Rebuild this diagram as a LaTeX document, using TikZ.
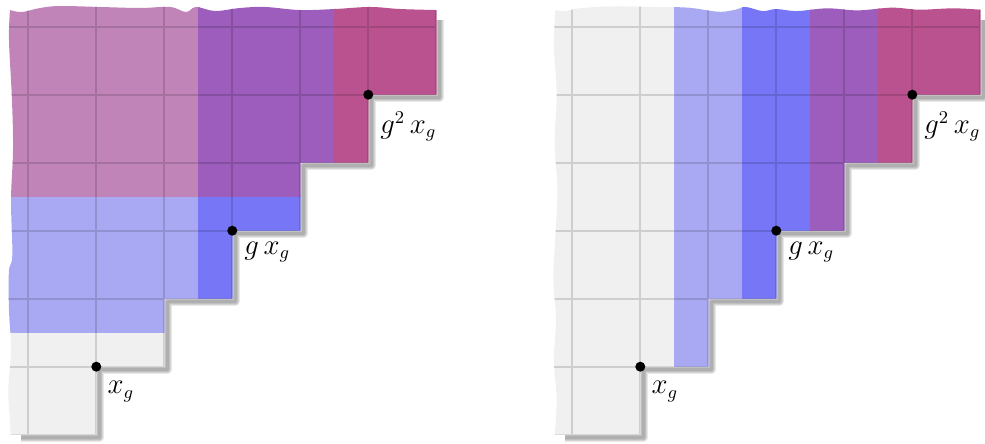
\documentclass[tikz,border=0pt]{standalone}
\usetikzlibrary{calc}
\definecolor{bgray}{HTML}{F0F0F0}
\definecolor{lblue}{HTML}{A8A8F3}
\definecolor{dblue}{HTML}{7676F6}
\definecolor{cpurple}{HTML}{9C5DBC}
\definecolor{cmagenta}{HTML}{BA528F}
\definecolor{cpink}{HTML}{C084B8}
\tikzset{
  dot/.style={circle, fill=black, inner sep=0pt, minimum size=5pt},
  lab/.style={anchor=north west, inner sep=0pt, font=\fontsize{13.5}{16}\selectfont},
  shadowline/.style={black, opacity=0.09, line join=round, line cap=butt},
}
% band: fill a rectangle (slightly overlapping the next band) and draw the grid inside it in a darker shade
\newcommand\myband[5]{%
  \fill[#5] (#1,#2) rectangle ({#3+0.03},{#4+0.03});
  \begin{scope}
    \clip (#1,#2) rectangle (#3,#4);
    \draw[#5!86!black, line width=1pt, step=1] (-2,-2) grid (6,6);
  \end{scope}}
\newcommand\mystairs{(-1.26,-1) -- (0,-1) -- (0,0) -- (1,0) -- (1,1) -- (2,1) -- (2,2) -- (3,2) -- (3,3) -- (4,3) -- (4,4) -- (5,4) -- (5,5.245)}
\newcommand\myshadowpath{(-1.15,-1) -- (0,-1) -- (0,0) -- (1,0) -- (1,1) -- (2,1) -- (2,2) -- (3,2) -- (3,3) -- (4,3) -- (4,4) -- (5,4) -- (5,5.14)}
\newcommand\myregionA{\mystairs
  -- plot[smooth, tension=0.6] coordinates {(4.996,5.245) (4.466,5.260) (4.025,5.290) (3.510,5.260) (2.996,5.245) (2.481,5.290) (2.114,5.275) (1.746,5.231) (1.466,5.290) (1.319,5.216) (1.084,5.290) (0.643,5.275) (0.054,5.290) (-0.534,5.304) (-0.828,5.275) (-1.093,5.216) (-1.269,5.245)}
  -- plot[smooth, tension=0.6] coordinates {(-1.269,5.245) (-1.284,4.80) (-1.240,3.92) (-1.225,3.187) (-1.254,2.45) (-1.235,1.643) (-1.285,1.40) (-1.284,0.834) (-1.254,0.246) (-1.295,-0.343) (-1.269,-0.784) (-1.26,-1)}
  -- cycle}
\newcommand\myregionB{\mystairs
  -- plot[smooth, tension=0.6] coordinates {(4.996,5.25) (4.60,5.27) (4.10,5.25) (3.70,5.28) (3.20,5.24) (2.75,5.27) (2.30,5.23) (2.00,5.26) (1.80,5.23) (1.55,5.29) (1.40,5.25) (1.15,5.22) (0.70,5.28) (0.20,5.29) (-0.40,5.30) (-0.90,5.27) (-1.10,5.23) (-1.25,5.245)}
  -- plot[smooth, tension=0.6] coordinates {(-1.25,5.245) (-1.27,4.70) (-1.23,4.00) (-1.26,3.30) (-1.22,2.60) (-1.25,1.90) (-1.28,1.30) (-1.24,0.70) (-1.27,0.10) (-1.23,-0.50) (-1.26,-1)}
  -- cycle}
\begin{document}
\begin{tikzpicture}[x=34pt, y=34pt]
\useasboundingbox (-1.4162,-1.1368) rectangle (13.069,5.3926);
% ---------- left panel ----------
\begin{scope}
  \begin{scope}[shift={(0.045,-0.045)}]
    \foreach \w in {4.5,3.5,2.5,1.5} \draw[shadowline, line width=\w pt] \myshadowpath;
  \end{scope}
  \begin{scope}
    \clip \myregionA;
    \myband{-2}{-2}{6}{0.5}{bgray}
    \myband{-2}{0.5}{1.5}{2.5}{lblue}
    \myband{1.5}{0.5}{6}{2.5}{dblue}
    \myband{-2}{2.5}{1.5}{6}{cpink}
    \myband{1.5}{2.5}{3.5}{6}{cpurple}
    \myband{3.5}{2.5}{6}{6}{cmagenta}
  \end{scope}
  \node[dot] (xgA) at (0,0) {};
  \node[dot] (gxgA) at (2,2) {};
  \node[dot] (ggxgA) at (4,4) {};
  \node[lab] (lxgA) at ($(xgA)+(0.16,-0.21)$) {$x_g$};
  \node[lab] (lgxgA) at ($(gxgA)+(0.17,-0.16)$) {$g\,x_g$};
  \node[lab] (lggxgA) at ($(ggxgA)+(0.17,-0.24)$) {$g^2\,x_g$};
\end{scope}
% ---------- right panel ----------
\begin{scope}[shift={(8,0)}]
  \begin{scope}[shift={(0.045,-0.045)}]
    \foreach \w in {4.5,3.5,2.5,1.5} \draw[shadowline, line width=\w pt] \myshadowpath;
  \end{scope}
  \begin{scope}
    \clip \myregionB;
    \myband{-2}{-2}{0.5}{6}{bgray}
    \myband{0.5}{-2}{1.5}{6}{lblue}
    \myband{1.5}{-2}{2.5}{6}{dblue}
    \myband{2.5}{-2}{3.5}{6}{cpurple}
    \myband{3.5}{-2}{6}{6}{cmagenta}
  \end{scope}
  \node[dot] (xgB) at (0,0) {};
  \node[dot] (gxgB) at (2,2) {};
  \node[dot] (ggxgB) at (4,4) {};
  \node[lab] (lxgB) at ($(xgB)+(0.16,-0.21)$) {$x_g$};
  \node[lab] (lgxgB) at ($(gxgB)+(0.17,-0.16)$) {$g\,x_g$};
  \node[lab] (lggxgB) at ($(ggxgB)+(0.17,-0.24)$) {$g^2\,x_g$};
\end{scope}
\end{tikzpicture}
\end{document}
